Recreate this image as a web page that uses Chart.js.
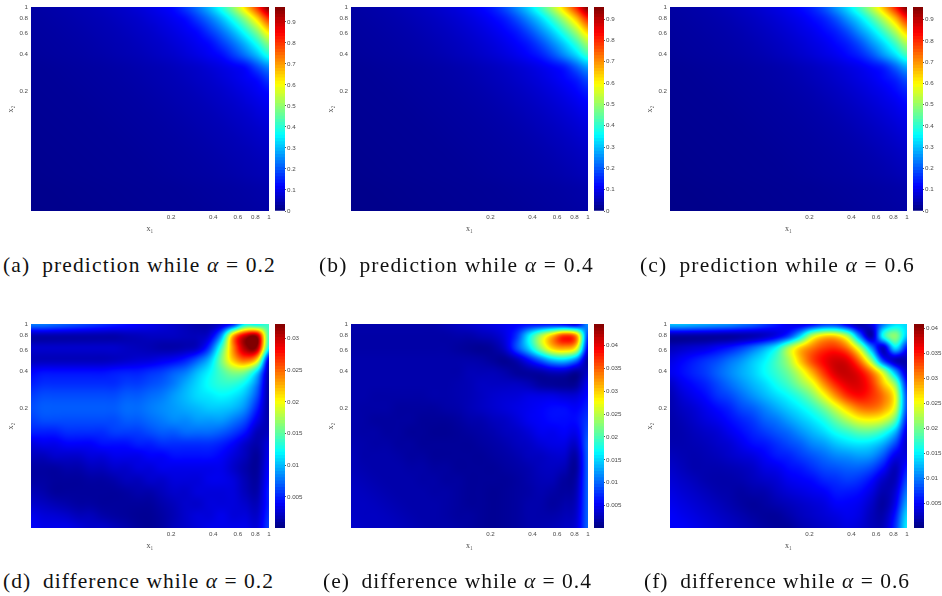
<!DOCTYPE html>
<html><head><meta charset="utf-8">
<script src="https://cdn.jsdelivr.net/npm/chart.js@4"></script>
<style>
html,body{margin:0;padding:0;background:#fff;width:942px;height:596px;overflow:hidden}
canvas{position:absolute}
.cap{position:absolute;font:21.5px/20px "Liberation Serif",serif;color:#111;white-space:nowrap}
</style></head><body>
<script>
// grid nodes of the read-off tables (data coordinates on the log axes)
const x1Grid=[.02,.02432,.02957,.03596,.04373,.05318,.06467,.07864,.09563,.11629,.14142,.17197,.20913,.25431,.30925,.37606,.45731,.55612,.67627,.82239,1];
const x2Grid=[1,.7944,.6311,.5013,.3982,.3164,.2513,.1997,.1586,.126,.1001,.0795,.0632,.0502,.0399,.0317,.0252,.02];
const axisTicks=[.2,.4,.6,.8,1];
const barTicksPrediction=[0,.1,.2,.3,.4,.5,.6,.7,.8,.9];
const barTicksD=[.005,.01,.015,.02,.025,.03];
const barTicksE=[.005,.01,.015,.02,.025,.03,.035,.04];
const barTicksF=[.005,.01,.015,.02,.025,.03,.035,.04];
// prediction panels, values in percent
const predictionA=[
[3.4,3.7,4,4.4,4.8,5.2,5.8,6.5,7.2,8.3,9.5,11,13,17.5,23,30,39,50,64,80,97],
[3.2,3.4,3.7,4,4.4,4.8,5.2,5.8,6.5,7.2,8.3,9.5,11,13,17.5,23,30,39,50,64,80],
[3,3.2,3.4,3.7,4,4.4,4.8,5.2,5.8,6.5,7.2,8.3,9.5,11,13,17.5,23,30,39,50,64],
[2.8,3,3.2,3.4,3.7,4,4.4,4.8,5.2,5.8,6.5,7.2,8.3,9.5,11,13,17.5,23,30,39,50],
[2.6,2.8,3,3.2,3.4,3.7,4,4.4,4.8,5.2,5.8,6.5,7.2,8.3,9.5,11,13,17.5,23,30,39],
[2.3,2.4,2.6,2.8,3,3.2,3.4,3.7,4,4.4,4.8,5.2,5.8,6.5,7.2,8.3,9.5,11,13,19,25],
[2.2,2.3,2.4,2.6,2.8,3,3.2,3.4,3.7,4,4.4,4.8,5.2,5.8,6.5,7.2,8.3,9.5,11,13,17.5],
[2.1,2.2,2.3,2.4,2.6,2.8,3,3.2,3.4,3.7,4,4.4,4.8,5.2,5.8,6.5,7.2,8.3,9.5,11,13],
[2,2.1,2.2,2.3,2.4,2.6,2.8,3,3.2,3.4,3.7,4,4.4,4.8,5.2,5.8,6.5,7.2,8.3,9.5,11],
[1.9,2,2.1,2.2,2.3,2.4,2.6,2.8,3,3.2,3.4,3.7,4,4.4,4.8,5.2,5.8,6.5,7.2,8.3,9.5],
[1.8,1.9,2,2.1,2.2,2.3,2.4,2.6,2.8,3,3.2,3.4,3.7,4,4.4,4.8,5.2,5.8,6.5,7.2,8.3],
[1.7,1.8,1.9,2,2.1,2.2,2.3,2.4,2.6,2.8,3,3.2,3.4,3.7,4,4.4,4.8,5.2,5.8,6.5,7.2],
[1.6,1.7,1.8,1.9,2,2.1,2.2,2.3,2.4,2.6,2.8,3,3.2,3.4,3.7,4,4.4,4.8,5.2,5.8,6.5],
[1.5,1.6,1.7,1.8,1.9,2,2.1,2.2,2.3,2.4,2.6,2.8,3,3.2,3.4,3.7,4,4.4,4.8,5.2,5.8],
[1.4,1.5,1.6,1.7,1.8,1.9,2,2.1,2.2,2.3,2.4,2.6,2.8,3,3.2,3.4,3.7,4,4.4,4.8,5.2],
[1.3,1.3,1.4,1.5,1.6,1.7,1.8,1.9,2,2.1,2.2,2.3,2.4,2.6,2.8,3,3.2,3.4,3.7,4,4.4],
[1.2,1.3,1.3,1.4,1.5,1.6,1.7,1.8,1.9,2,2.1,2.2,2.3,2.4,2.6,2.8,3,3.2,3.4,3.7,4],
[1.2,1.2,1.3,1.3,1.4,1.5,1.6,1.7,1.8,1.9,2,2.1,2.2,2.3,2.4,2.6,2.8,3,3.2,3.4,3.7]];
const predictionB=[
[3.3,3.6,3.9,4.3,4.8,5.4,6,6.8,7.7,8.8,10.2,12,14.5,19,25,32,41,52,65,80,95.5],
[3.1,3.3,3.6,3.9,4.3,4.8,5.4,6,6.8,7.7,8.8,10.2,12,14.5,19,25,32,41,52,65,80],
[2.9,3.1,3.3,3.6,3.9,4.3,4.8,5.4,6,6.8,7.7,8.8,10.2,12,14.5,19,25,32,41,52,65],
[2.7,2.9,3.1,3.3,3.6,3.9,4.3,4.8,5.4,6,6.8,7.7,8.8,10.2,12,14.5,19,25,32,41,52],
[2.5,2.7,2.9,3.1,3.3,3.6,3.9,4.3,4.8,5.4,6,6.8,7.7,8.8,10.2,12,14.5,19,25,32,41],
[2.2,2.3,2.5,2.7,2.9,3.1,3.3,3.6,3.9,4.3,4.8,5.4,6,6.8,7.7,8.8,10.2,12,14.5,20.5,27],
[2.1,2.2,2.3,2.5,2.7,2.9,3.1,3.3,3.6,3.9,4.3,4.8,5.4,6,6.8,7.7,8.8,10.2,12,14.5,19],
[2,2.1,2.2,2.3,2.5,2.7,2.9,3.1,3.3,3.6,3.9,4.3,4.8,5.4,6,6.8,7.7,8.8,10.2,12,14.5],
[1.9,2,2.1,2.2,2.3,2.5,2.7,2.9,3.1,3.3,3.6,3.9,4.3,4.8,5.4,6,6.8,7.7,8.8,10.2,12],
[1.8,1.9,2,2.1,2.2,2.3,2.5,2.7,2.9,3.1,3.3,3.6,3.9,4.3,4.8,5.4,6,6.8,7.7,8.8,10.2],
[1.7,1.8,1.9,2,2.1,2.2,2.3,2.5,2.7,2.9,3.1,3.3,3.6,3.9,4.3,4.8,5.4,6,6.8,7.7,8.8],
[1.6,1.7,1.8,1.9,2,2.1,2.2,2.3,2.5,2.7,2.9,3.1,3.3,3.6,3.9,4.3,4.8,5.4,6,6.8,7.7],
[1.5,1.6,1.7,1.8,1.9,2,2.1,2.2,2.3,2.5,2.7,2.9,3.1,3.3,3.6,3.9,4.3,4.8,5.4,6,6.8],
[1.4,1.5,1.6,1.7,1.8,1.9,2,2.1,2.2,2.3,2.5,2.7,2.9,3.1,3.3,3.6,3.9,4.3,4.8,5.4,6],
[1.3,1.4,1.5,1.6,1.7,1.8,1.9,2,2.1,2.2,2.3,2.5,2.7,2.9,3.1,3.3,3.6,3.9,4.3,4.8,5.4],
[1.2,1.2,1.3,1.4,1.5,1.6,1.7,1.8,1.9,2,2.1,2.2,2.3,2.5,2.7,2.9,3.1,3.3,3.6,3.9,4.3],
[1.1,1.2,1.2,1.3,1.4,1.5,1.6,1.7,1.8,1.9,2,2.1,2.2,2.3,2.5,2.7,2.9,3.1,3.3,3.6,3.9],
[1.1,1.1,1.2,1.2,1.3,1.4,1.5,1.6,1.7,1.8,1.9,2,2.1,2.2,2.3,2.5,2.7,2.9,3.1,3.3,3.6]];
const predictionC=[
[3.2,3.5,3.8,4.2,4.7,5.4,6.1,7,8,9.2,10.5,12.5,15,19.5,26,33,42,53,66,81,96],
[3,3.2,3.5,3.8,4.2,4.7,5.4,6.1,7,8,9.2,10.5,12.5,15,19.5,26,33,42,53,66,81],
[2.8,3,3.2,3.5,3.8,4.2,4.7,5.4,6.1,7,8,9.2,10.5,12.5,15,19.5,26,33,42,53,66],
[2.6,2.8,3,3.2,3.5,3.8,4.2,4.7,5.4,6.1,7,8,9.2,10.5,12.5,15,19.5,26,33,42,53],
[2.4,2.6,2.8,3,3.2,3.5,3.8,4.2,4.7,5.4,6.1,7,8,9.2,10.5,12.5,15,19.5,26,33,42],
[2.1,2.2,2.4,2.6,2.8,3,3.2,3.5,3.8,4.2,4.7,5.4,6.1,7,8,9.2,10.5,12.5,15,21,28],
[2,2.1,2.2,2.4,2.6,2.8,3,3.2,3.5,3.8,4.2,4.7,5.4,6.1,7,8,9.2,10.5,12.5,15,19.5],
[1.9,2,2.1,2.2,2.4,2.6,2.8,3,3.2,3.5,3.8,4.2,4.7,5.4,6.1,7,8,9.2,10.5,12.5,15],
[1.8,1.9,2,2.1,2.2,2.4,2.6,2.8,3,3.2,3.5,3.8,4.2,4.7,5.4,6.1,7,8,9.2,10.5,12.5],
[1.7,1.8,1.9,2,2.1,2.2,2.4,2.6,2.8,3,3.2,3.5,3.8,4.2,4.7,5.4,6.1,7,8,9.2,10.5],
[1.6,1.7,1.8,1.9,2,2.1,2.2,2.4,2.6,2.8,3,3.2,3.5,3.8,4.2,4.7,5.4,6.1,7,8,9.2],
[1.5,1.6,1.7,1.8,1.9,2,2.1,2.2,2.4,2.6,2.8,3,3.2,3.5,3.8,4.2,4.7,5.4,6.1,7,8],
[1.4,1.5,1.6,1.7,1.8,1.9,2,2.1,2.2,2.4,2.6,2.8,3,3.2,3.5,3.8,4.2,4.7,5.4,6.1,7],
[1.3,1.4,1.5,1.6,1.7,1.8,1.9,2,2.1,2.2,2.4,2.6,2.8,3,3.2,3.5,3.8,4.2,4.7,5.4,6.1],
[1.2,1.3,1.4,1.5,1.6,1.7,1.8,1.9,2,2.1,2.2,2.4,2.6,2.8,3,3.2,3.5,3.8,4.2,4.7,5.4],
[1.1,1.1,1.2,1.3,1.4,1.5,1.6,1.7,1.8,1.9,2,2.1,2.2,2.4,2.6,2.8,3,3.2,3.5,3.8,4.2],
[1,1.1,1.1,1.2,1.3,1.4,1.5,1.6,1.7,1.8,1.9,2,2.1,2.2,2.4,2.6,2.8,3,3.2,3.5,3.8],
[1,1,1.1,1.1,1.2,1.3,1.4,1.5,1.6,1.7,1.8,1.9,2,2.1,2.2,2.4,2.6,2.8,3,3.2,3.5]];
// difference panels, values in thousandths
const differenceD=[
[8,8,7.5,7,6.5,6,5.5,5,4.5,4,3.5,3,2.5,2,1.5,1.5,2.5,5,12,12,14],
[1.5,1.5,1.5,1.5,1.5,1.5,1.5,1.5,1.8,2,2.2,2.2,2.2,2,2,3,9,23,30,31,14],
[2.5,2.5,2.5,2.5,2.5,2.5,2.5,2.5,2.2,2,1.8,1.5,1.5,1.8,2.5,6,14,24,31,31,12],
[2,2,2,2,2,2,2,2.2,2.5,2.8,3,3.5,4,5,7,10,16,22,25,21,3],
[4,4.5,4.5,4.5,4.5,4.5,4.5,4.8,5,5,5.5,6,7,8,10,12,14.5,16.5,16,11,1.5],
[5,5.5,5.5,5.5,5.5,5.5,5.5,5.5,6,6,6.5,7,8,9.5,11,12.5,13.5,13.5,12,8,1.2],
[6,6.5,6.5,6.5,6.5,6.5,6.5,6.5,7,7,7.5,8,9,10,11,11.5,12,11.5,10,6.5,1.2],
[6.5,7,7,7,7,7,7,7,7.5,7.5,8,8.5,9,9.5,10,10.5,10.5,10,8.5,5,1.2],
[6,6.5,6.5,6.5,6.5,6.5,6.5,6.5,7,7,7.5,8,8.5,8.5,9,9,9,8,6.5,3.5,1.5],
[5,5,5,5.5,5.5,5.5,5.5,6,6,6,6.5,7,7,7.5,7.5,7.5,7,6,4.5,2,2],
[3,3.5,3.5,4,4,4,4.5,4.5,4.5,5,5,5.5,5.5,5.5,5.5,5.5,5,4,2.5,1.5,3],
[2,2,2.5,2.5,2.5,3,3,3.5,3.5,3.5,4,4,4.5,4.5,4.5,4.5,4,3,2,1,3.5],
[1.2,1.2,1.2,1.5,1.5,2,2,2.5,2.5,3,3,3.5,3.5,3.5,3.5,3.5,3.5,2.5,1.5,1,4],
[1.2,1.2,1,1,1,1.2,1.2,1.5,2,2,2.5,2.5,3,3,3,3.5,3.5,3,1.8,1.2,4.5],
[1.8,1.5,1,1,1,1,1,1,1.2,1.5,1.5,2,2.5,2.5,3,3,3,3,2,1.5,5],
[2.5,2.2,1.8,1.5,1.2,1.2,1,1,1,1,1,1.5,2,2.5,2.5,3,3,3,2.5,2,5],
[3.5,3,2.8,2.5,2,2,1.5,1.2,1,.8,.8,1.2,1.8,2.5,3,3,3.5,3,3,2.5,5.5],
[4,3.5,3.5,3.5,3,2.5,2.5,2,1.5,1,.8,1.2,2,2.5,3,3.5,3.5,3.5,3.5,3,6]];
const differenceE=[
[2,2,2,2,2,2,2,2,2.5,3,3.5,4,4.5,5,5.5,6,6,6,5,4,12],
[1.8,1.8,1.8,1.8,1.8,1.8,1.8,1.8,1.8,2,2,2.5,3,4.5,8,16,24,31,37,33,8],
[1.8,1.8,1.8,1.8,1.8,1.8,1.8,1.8,1.8,1.5,1.2,1,1.5,3.5,9,15,23,30,32,28,5],
[2,2,2,2,2,2,2,2,2,2,2,1.8,1.3,1,2.5,6,10,14,15,11,1.5],
[2,2,2,2,2,2,2,2,2,2,2.5,2.5,2.5,2,1.3,1.5,2,3,3,1.5,3],
[2,2,2,2,2,2,2,2,2,2.2,2.5,3,3,3,3,2.5,1.5,1.2,1,1.2,5],
[2,2,1.8,1.8,1.8,1.8,1.8,2,2,2.2,2.5,3,3.5,3.8,4,4.5,4.5,4.5,4,4,6],
[2,1.8,1.8,1.8,1.5,1.5,1.5,1.5,1.8,2,2.5,3,3.5,4,4.5,5,5.5,6,6,5.5,7],
[2,1.8,1.5,1.5,1.5,1.5,1.2,1.2,1.2,1.5,2,2.2,2.8,3.2,4,5,5.5,6,6,6,8],
[2,1.8,1.8,1.5,1.5,1.2,1.2,1,1,1.2,1.5,1.8,2.2,2.8,3.2,4,5,5,5.5,5,9],
[2.2,2,1.8,1.8,1.5,1.5,1.2,1.2,1.2,1.2,1.2,1.5,1.8,2.2,2.8,3.2,4,4.5,4.5,3.5,10],
[2.5,2,2,2,1.8,1.5,1.5,1.2,1.2,1.2,1.2,1.2,1.5,1.8,2.2,2.8,3,3.5,3.5,2,10],
[2.5,2.2,2,2,2,1.8,1.8,1.5,1.5,1.2,1.2,1.2,1.2,1.5,1.8,2.2,2.8,3,2.5,1.5,10],
[2.8,2.5,2.2,2,2,2,1.8,1.8,1.5,1.5,1.2,1.2,1.2,1.2,1.5,2,2.5,2.5,1.5,2,10],
[3,2.8,2.5,2.2,2,2,2,1.8,1.8,1.5,1.2,1.2,1,1.2,1.5,1.8,2.2,1.8,1.5,2.5,10],
[3,3,2.8,2.5,2.2,2,2,2,1.8,1.5,1.2,1.2,1,1.2,1.5,2,2,1.5,2,3,10],
[3.2,3,3,2.8,2.5,2.2,2,2,1.8,1.5,1.5,1.2,1,1.2,1.5,2,2,2,2.5,3.5,10],
[3.5,3.2,3,3,2.8,2.5,2.2,2,2,1.8,1.5,1.2,1,1.2,1.5,2,2.2,2.5,3,4,10]];
const differenceF=[
[13,13,12.5,12,11.5,11,10,9,7.5,6,4.5,4,5,7,7,4,1.5,4,10,14,14],
[1.5,1.5,1.5,1.5,1.5,1.5,1.8,2.2,3,4.5,7.5,14,23,27,27,22,10,2,16,21,13],
[2.5,3,3.5,4,5,6,7.5,9.5,12,15.5,22,27.5,31,33.5,34,31,23,11,3,14,6],
[4,5,6,7,8,9.5,11,13,15,18,22,28,33,36,37.5,36.5,31,21,7,2.5,2],
[4.5,5.5,6.5,7.5,9,10.5,12,13.5,15.5,17.5,20,24,29,34,37.5,38,36,31,23,12,3],
[3,4.5,5.5,6.5,8,9.5,11,12.5,14,16,18,21,24.5,30,34.5,37,37,34,28,21,6],
[2.2,3.5,4.5,5.5,7,8,9.5,11,12.5,14,15.5,17.5,20.5,25,30,34,35.5,34,31,25,8],
[2,2.8,3.5,4.5,5.5,6.5,8,9,10.5,12,13.5,15,17,20,24,28,31,31.5,29.5,24,8],
[1.8,2.3,3,3.8,4.5,5.5,6.5,7.5,9,10,11.5,13,14.5,16.5,19.5,22.5,25,25.5,24,19,6],
[1.8,2,2.5,3,3.5,4.5,5.5,6.5,7.5,8.5,9.5,11,12.5,14,16,17.5,19,19,17,12.5,4],
[2,2,2.2,2.5,3,3.5,4.5,5.5,6,7,8,9,10.5,11.5,13,14,14.5,14,12,8,3],
[2.5,2.2,2,2.2,2.5,3,3.5,4,5,6,6.5,7.5,8.5,9.5,10.5,11,11.5,11,8.5,4.5,4],
[3,2.5,2,2,2,2.2,2.5,3,4,4.5,5.5,6,7,8,8.5,9,9,8,5.5,2.5,6],
[3.5,3,2.5,2,1.8,1.8,2,2.5,3,3.5,4.5,5,5.5,6.5,7,7.5,7,5.5,3,2.5,8],
[4,3.5,3,2.5,2,1.8,1.5,1.8,2,2.8,3.5,4,4.5,5,6,6,5.5,4,2,3.5,10],
[4.5,4,3.5,3,2.5,2,1.5,1.2,1.5,2,2.5,3,3.5,4,5,5,4.5,3,1.5,4.5,12],
[5,4.5,4,3.5,3,2.5,2,1.5,1.2,1.2,1.8,2.5,3,3.5,4,4.5,4,2.5,2,6,14],
[5,5,4.5,4,3.5,3,2.5,2,1.5,1.2,1.2,2,2.5,3,3.5,4,3.5,2.5,2.5,7,15]];

const clamp=v=>Math.max(0,Math.min(1,v));
const jetRGB=t=>[3,2,1].map(k=>Math.round(255*clamp(1.5-Math.abs(4*t-k))));
const jet=t=>`rgb(${jetRGB(t).join(',')})`;
const TEXT='#4a4a4a';
const tickFont={family:'"Liberation Sans",sans-serif',size:6.2};
const cubic=(a,b,c,d,f)=>b+.5*f*(c-a+f*(2*a-5*b+4*c-d+f*(3*(b-c)+d-a)));
// locate a pixel between two grid nodes, positions taken from the chart's scale
function locate(nodes,p){
  let k=0;while(k<nodes.length-2&&p>nodes[k+1])k++;
  return [k,clamp((p-nodes[k])/(nodes[k+1]-nodes[k]))];
}
function smoothPlugin(values,unit,lo,hi){return{id:'smoothField',afterDatasetsDraw(chart){
  const sx=chart.scales.x,sy=chart.scales.y,a=chart.chartArea;
  const gx=x1Grid.map(v=>sx.getPixelForValue(v)),gy=x2Grid.map(v=>sy.getPixelForValue(v));
  const L=Math.round(a.left),T=Math.round(a.top),W=Math.round(a.right)-L,H=Math.round(a.bottom)-T;
  const img=chart.ctx.createImageData(W,H),R=values.length-1,C=values[0].length-1;
  const at=(j,i)=>values[Math.max(0,Math.min(R,j))][Math.max(0,Math.min(C,i))];
  for(let py=0;py<H;py++){
    const [j,fy]=locate(gy,T+py+.5);
    for(let px=0;px<W;px++){
      const [i,fx]=locate(gx,L+px+.5);
      const row=n=>cubic(at(n,i-1),at(n,i),at(n,i+1),at(n,i+2),fx);
      const v=cubic(row(j-1),row(j),row(j+1),row(j+2),fy)*unit;
      const rgb=jetRGB(clamp((v-lo)/(hi-lo))),o=4*(py*W+px);
      img.data[o]=rgb[0];img.data[o+1]=rgb[1];img.data[o+2]=rgb[2];img.data[o+3]=255;
    }
  }
  chart.ctx.putImageData(img,L,T);
}};}
function makeCanvas(l,t,w,h){
  const c=document.createElement('canvas');c.width=w;c.height=h;
  c.style.cssText=`left:${l}px;top:${t}px;width:${w}px;height:${h}px`;
  document.body.appendChild(c);return c;
}
const setTicks=list=>s=>{s.ticks=list.map(v=>({value:v}));};
function panel(plotLeft,plotTop,plotWidth,barLeft,barLabelGap,values,unit,barMin,barMax,barTicks){
  const pts=[],cols=[];
  values.forEach((row,j)=>row.forEach((v,i)=>{
    const val=v*unit;pts.push({x:x1Grid[i],y:x2Grid[j],v:val});
    cols.push(jet(clamp((val-barMin)/(barMax-barMin))));
  }));
  const axis=(fit,titleText,pad)=>({type:'logarithmic',min:.02,max:1,
    grid:{display:false,drawTicks:false},border:{display:false},
    afterBuildTicks:setTicks(axisTicks),afterFit:fit,
    ticks:{autoSkip:false,maxRotation:0,font:tickFont,color:TEXT,padding:3,callback:v=>String(v)},
    title:{display:true,text:titleText,color:TEXT,font:{family:'"Liberation Serif",serif',size:8},padding:pad}});
  new Chart(makeCanvas(plotLeft-31,plotTop-7,31+plotWidth+6,7+204+30),{
    type:'scatter',plugins:[smoothPlugin(values,unit,barMin,barMax)],
    data:{datasets:[{data:pts,pointStyle:'rect',pointRadius:9,pointHoverRadius:9,pointBorderWidth:0,
      pointBackgroundColor:cols,clip:0}]},
    options:{responsive:false,animation:false,events:[],
      layout:{autoPadding:false,padding:{top:7,right:6,left:0,bottom:0}},
      plugins:{legend:{display:false},tooltip:{enabled:false}},
      scales:{
        x:axis(s=>{s.height=30;s.paddingLeft=0;s.paddingRight=0;},'x₁',{top:0,bottom:7}),
        y:axis(s=>{s.width=31;s.paddingTop=0;s.paddingBottom=0;},'x₂',{top:6,bottom:0})
      }}});
  const levels=[];for(let k=63;k>=0;k--)levels.push(k);
  new Chart(makeCanvas(barLeft,plotTop-7,942-barLeft,218),{
    type:'bar',
    data:{labels:['colour'],datasets:levels.map(k=>({
      data:[[barMin+(barMax-barMin)*k/64,barMax]],backgroundColor:jet((k+.5)/64),
      barPercentage:1,categoryPercentage:1,grouped:false,borderWidth:0}))},
    options:{responsive:false,animation:false,events:[],
      layout:{autoPadding:false,padding:{top:7,bottom:7,left:0,right:0}},
      plugins:{legend:{display:false},tooltip:{enabled:false}},
      scales:{
        x:{display:false},
        y:{position:'right',min:barMin,max:barMax,border:{display:false},
          grid:{drawOnChartArea:false,tickLength:1,color:'#555',lineWidth:1},
          afterBuildTicks:setTicks(barTicks),afterFit:s=>{s.width=942-barLeft-10;s.paddingTop=0;s.paddingBottom=0;},
          ticks:{autoSkip:false,font:tickFont,color:TEXT,padding:barLabelGap,callback:v=>String(v)}}
      }}});
}
panel(31,7,238,275,1,predictionA,.01,0,.971,barTicksPrediction);
panel(351,7,237,594,1,predictionB,.01,0,.957,barTicksPrediction);
panel(670,7,237,913,1,predictionC,.01,0,.96,barTicksPrediction);
panel(31,324,238,275,1,differenceD,.001,.0001,.0323,barTicksD);
panel(351,324,237,594,1,differenceE,.001,.0001,.0447,barTicksE);
panel(670,324,237,914,1,differenceF,.001,.0001,.0409,barTicksF);

function caption(tag,what,val,left,right,top){
  const d=document.createElement('div');d.className='cap';
  d.innerHTML=`(${tag})&ensp;${what} while <i>α</i> = ${val}`;
  d.style.left=left+'px';d.style.top=top+'px';document.body.appendChild(d);
  const n=d.textContent.length;
  d.style.letterSpacing=((right-left-d.getBoundingClientRect().width)/n)+'px';
}
caption('a','prediction','0.2',3,276,254.5);
caption('b','prediction','0.4',319,594,254.5);
caption('c','prediction','0.6',640,915,254.5);
caption('d','difference','0.2',3,274,570.5);
caption('e','difference','0.4',323,592,570.5);
caption('f','difference','0.6',644,910,570.5);
</script></body></html>
